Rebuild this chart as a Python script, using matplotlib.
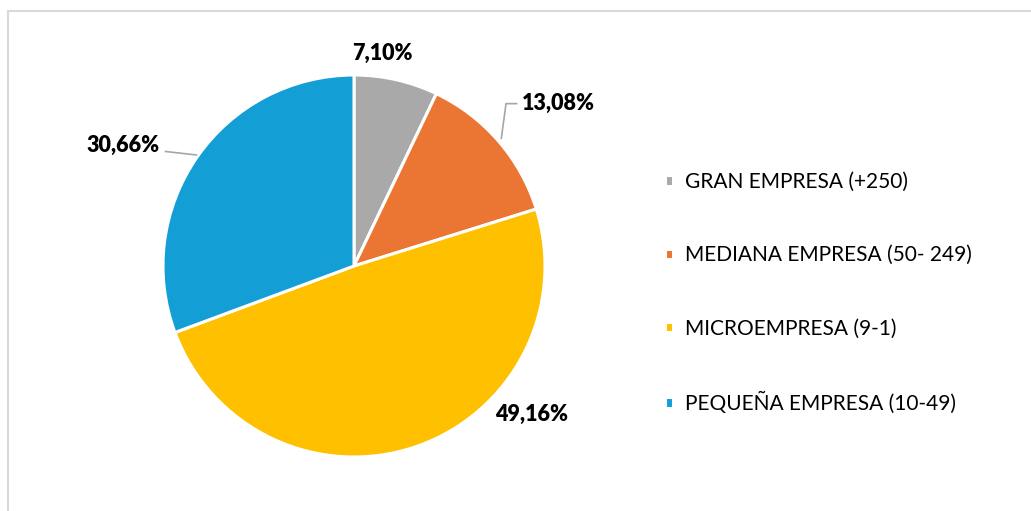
import matplotlib.pyplot as plt
import numpy as np
from matplotlib.patches import Rectangle

plt.rcParams["font.family"] = ["Lato", "DejaVu Sans"]

categories = [
    "GRAN EMPRESA (+250)",
    "MEDIANA EMPRESA (50- 249)",
    "MICROEMPRESA (9-1)",
    "PEQUEÑA EMPRESA (10-49)",
]
shares = [7.10, 13.08, 49.16, 30.66]
labels = ["7,10%", "13,08%", "49,16%", "30,66%"]
colors = ["#A9A9A9", "#EB7532", "#FFC000", "#139FD6"]

W, H = 1031, 511
fig = plt.figure(figsize=(W / 100, H / 100), dpi=100)

# pie centre / radius in pixels
cx, cy, R = 354, 245, 191
xl, yl = 1.5, 1.25
ax = fig.add_axes([(cx - xl * R) / W, (cy - yl * R) / H, 2 * xl * R / W, 2 * yl * R / H])
wedges, _ = ax.pie(
    shares,
    colors=colors,
    startangle=90,
    counterclock=False,
    radius=1.0,
    wedgeprops=dict(edgecolor="white", linewidth=2.2),
)
ax.set_xlim(-xl, xl)
ax.set_ylim(-yl, yl)
ax.set_aspect("equal")
ax.axis("off")

# label positions (data units, relative to pie radius)
label_pos = [(0.15, 1.115), (1.07, 0.85), (0.93, -0.775), (-1.21, 0.63)]
lead = [False, True, False, True]
for w, txt, (tx, ty), ld in zip(wedges, labels, label_pos, lead):
    mid = np.deg2rad((w.theta1 + w.theta2) / 2)
    ex, ey = np.cos(mid), np.sin(mid)
    ax.text(tx, ty, txt, ha="center", va="center", fontsize=15.5,
            fontweight="heavy", color="black")
    if ld:
        if tx > 0:
            pts = [(ex + 0.015, ey + 0.01), (ex + 0.04, ty), (ex + 0.10, ty)]
        else:
            pts = [(ex, ey + 0.01), (ex - 0.17, ty - 0.03)]
        ax.plot([p[0] for p in pts], [p[1] for p in pts], color="#A6A6A6",
                lw=1.2, solid_capstyle="butt")

leg = fig.legend(
    wedges, categories,
    loc="center left",
    bbox_to_anchor=(665 / W, 1 - 293 / H),
    frameon=False,
    fontsize=15,
    handlelength=0.4,
    handleheight=0.4,
    handletextpad=0.55,
    labelspacing=2.55,
    borderpad=0,
    borderaxespad=0,
)

# chart-area border
fig.patches.append(Rectangle((8 / W, -0.1), 1.2, 1 - 11 / H + 0.1,
                             transform=fig.transFigure, fill=False,
                             edgecolor="#D9D9D9", lw=1.5))

fig.savefig("out.png", dpi=100)
